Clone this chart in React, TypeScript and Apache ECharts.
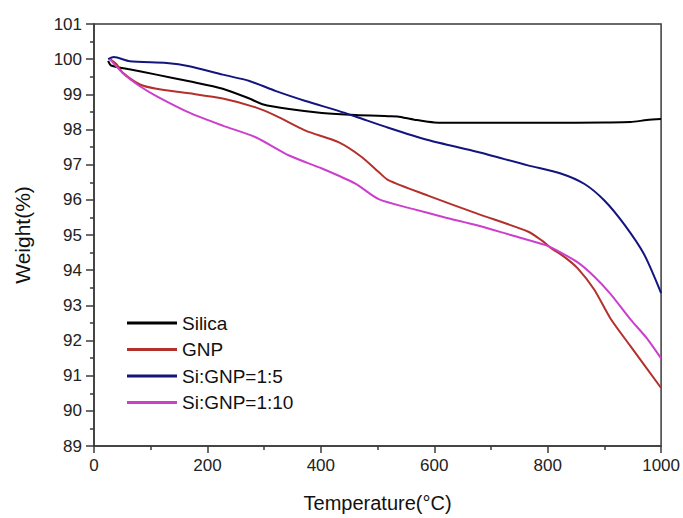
import React, { useEffect, useRef } from "react";
import * as echarts from "echarts";

const silicaT = [25, 30, 60, 110, 168, 227, 274, 297, 344, 402, 461, 519, 535, 565, 600, 650, 700, 800, 900, 946, 975, 1000];
const silicaW = [99.95, 99.82, 99.72, 99.56, 99.37, 99.16, 98.88, 98.72, 98.58, 98.47, 98.41, 98.38, 98.37, 98.28, 98.2, 98.19, 98.19, 98.19, 98.2, 98.21, 98.27, 98.3];

const gnpT = [28, 40, 51, 81, 110, 168, 227, 285, 321, 373, 431, 472, 502, 519, 589, 677, 765, 790, 805, 830, 853, 882, 911, 946, 1000];
const gnpW = [100.0, 99.85, 99.61, 99.28, 99.16, 99.03, 98.88, 98.63, 98.39, 97.97, 97.64, 97.22, 96.79, 96.56, 96.12, 95.6, 95.1, 94.84, 94.64, 94.37, 94.05, 93.45, 92.62, 91.84, 90.65];

const si15T = [25, 35, 63, 128, 168, 227, 274, 321, 373, 431, 461, 519, 589, 677, 765, 823, 865, 900, 935, 970, 1000];
const si15W = [100.0, 100.06, 99.94, 99.89, 99.8, 99.56, 99.38, 99.09, 98.81, 98.53, 98.37, 98.05, 97.7, 97.36, 96.98, 96.75, 96.45, 95.98, 95.3, 94.45, 93.35];

const si110T = [28, 51, 81, 110, 168, 227, 285, 344, 402, 461, 502, 560, 619, 677, 735, 795, 812, 853, 882, 911, 946, 975, 1000];
const si110W = [100.0, 99.6, 99.23, 98.95, 98.48, 98.11, 97.78, 97.26, 96.89, 96.46, 96.02, 95.75, 95.5, 95.27, 95.0, 94.72, 94.6, 94.22, 93.82, 93.32, 92.6, 92.06, 91.49];

const seriesNames = ["Silica", "GNP", "Si:GNP=1:5", "Si:GNP=1:10"];
const seriesColors = ["#000000", "#b3302c", "#14147f", "#cc3fcc"];

const zip = (t: number[], w: number[]) => t.map((x, i) => [x, w[i]]);

export default function App() {
  const ref = useRef<HTMLDivElement>(null);
  useEffect(() => {
    if (!ref.current) return;
    const chart = echarts.init(ref.current, null, { renderer: "svg" });
    const datasets = [zip(silicaT, silicaW), zip(gnpT, gnpW), zip(si15T, si15W), zip(si110T, si110W)];
    const axisColor = "#3a3a3a";
    const font = "Liberation Sans, Arial, sans-serif";
    chart.setOption({
      animation: false,
      backgroundColor: "#ffffff",
      grid: {
        left: 94,
        right: 19,
        top: 24,
        bottom: 68,
        show: true,
        borderColor: axisColor,
        borderWidth: 1.5,
      },
      legend: {
        orient: "vertical",
        left: 127,
        top: 312,
        padding: 0,
        itemWidth: 50,
        itemHeight: 3,
        itemGap: 4.5,
        icon: "rect",
        data: seriesNames,
        textStyle: { fontSize: 19, color: "#111", fontFamily: font, lineHeight: 22 },
      },
      xAxis: {
        type: "value",
        min: 0,
        max: 1000,
        interval: 200,
        name: "Temperature(°C)",
        nameLocation: "middle",
        nameGap: 47,
        nameTextStyle: { fontSize: 20, color: "#111", fontFamily: font },
        axisLine: { show: true, lineStyle: { color: axisColor, width: 1.5 } },
        axisTick: { show: true, length: 7, lineStyle: { color: axisColor, width: 1.5 } },
        minorTick: { show: true, splitNumber: 2, length: 4, lineStyle: { color: axisColor, width: 1.5 } },
        splitLine: { show: false },
        axisLabel: { fontSize: 17, color: "#222", fontFamily: font, margin: 11, formatter: (v: number) => String(v) },
      },
      yAxis: {
        type: "value",
        min: 89,
        max: 101,
        interval: 1,
        name: "Weight(%)",
        nameLocation: "middle",
        nameGap: 61,
        nameTextStyle: { fontSize: 21, color: "#111", fontFamily: font },
        axisLine: { show: true, lineStyle: { color: axisColor, width: 1.5 } },
        axisTick: { show: true, length: 8, lineStyle: { color: axisColor, width: 1.5 } },
        minorTick: { show: true, splitNumber: 2, length: 4, lineStyle: { color: axisColor, width: 1.5 } },
        splitLine: { show: false },
        axisLabel: { fontSize: 17, color: "#222", fontFamily: font, margin: 12, formatter: (v: number) => String(v) },
      },
      series: seriesNames.map((name, i) => ({
        name,
        type: "line",
        data: datasets[i],
        showSymbol: false,
        symbol: "none",
        smooth: 0.25,
        lineStyle: { color: seriesColors[i], width: 2 },
        itemStyle: { color: seriesColors[i] },
      })),
    });
    return () => chart.dispose();
  }, []);
  return <div ref={ref} style={{ width: 683, height: 518, position: "absolute", left: 0, top: 0 }} />;
}
